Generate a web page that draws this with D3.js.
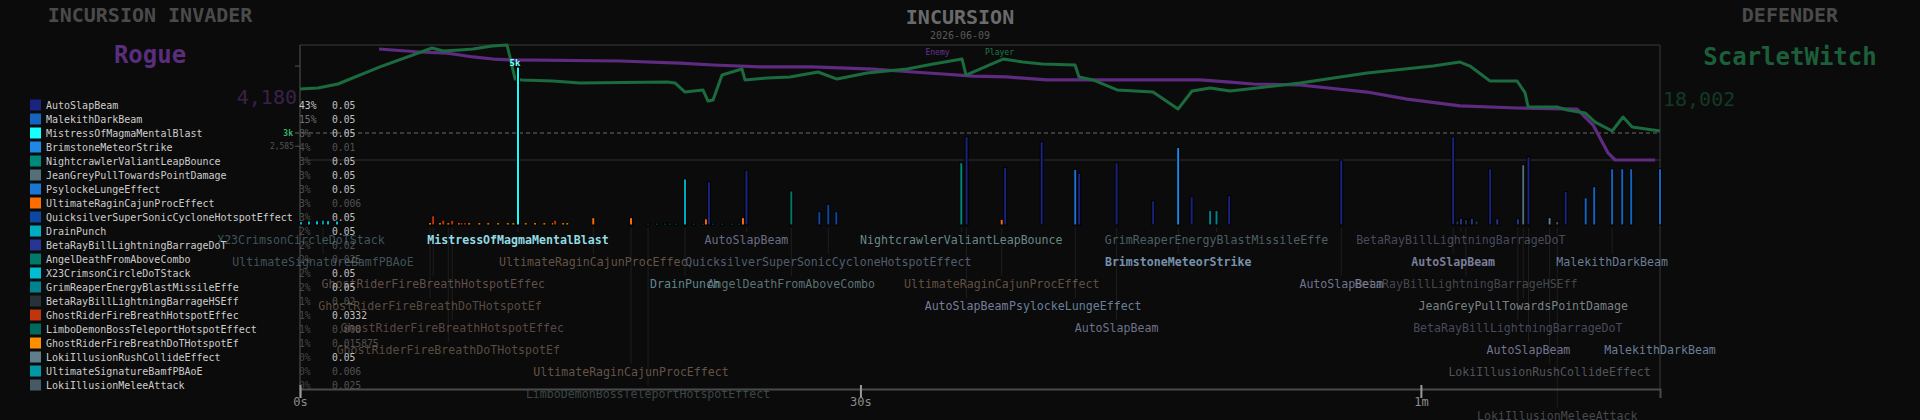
<!DOCTYPE html>
<html><head><meta charset="utf-8">
<script src="https://cdn.jsdelivr.net/npm/d3@7"></script>
<style>
html,body{margin:0;padding:0;background:#0b0b0b;}
svg{display:block;}
text{font-family:"DejaVu Sans Mono",monospace;}
</style></head><body>
<svg id="c" width="1920" height="420"></svg>
<script>
// ---------------- DATA ----------------
const chartTitle = "INCURSION";
const chartDate = "2026-06-09";
const invaderName = "Rogue";
const invaderTotal = 4180;
const defenderName = "ScarletWitch";
const defenderTotal = 18002;

const categories = [
  "AutoSlapBeam","MalekithDarkBeam","MistressOfMagmaMentalBlast","BrimstoneMeteorStrike",
  "NightcrawlerValiantLeapBounce","JeanGreyPullTowardsPointDamage","PsylockeLungeEffect",
  "UltimateRaginCajunProcEffect","QuicksilverSuperSonicCycloneHotspotEffect","DrainPunch",
  "BetaRayBillLightningBarrageDoT","AngelDeathFromAboveCombo","X23CrimsonCircleDoTStack",
  "GrimReaperEnergyBlastMissileEffe","BetaRayBillLightningBarrageHSEff","GhostRiderFireBreathHotspotEffec",
  "LimboDemonBossTeleportHotspotEffect","GhostRiderFireBreathDoTHotspotEf","LokiIllusionRushCollideEffect",
  "UltimateSignatureBamfPBAoE","LokiIllusionMeleeAttack"
];
const categoryColors = [
  "#1a237e","#1565c0","#18ffff","#1e88e5","#00897b","#546e7a","#1976d2","#ff6d00","#0d47a1","#00acc1",
  "#283593","#00796b","#00bcd4","#00838f","#263238","#bf360c","#00695c","#ff8f00","#607d8b","#0097a7","#455a64"
];
const sharePct = [43,15,8,4,3,3,3,3,3,2,2,2,2,2,1,1,1,1,0,0,0];
const coefficients = ["0.05","0.05","0.05","0.01","0.05","0.05","0.05","0.006","0.05","0.05","0.02","0.025","0.05","0.05","0.02","0.0332","0.008","0.015875","0.05","0.006","0.025"];

// HP of each side over time: [seconds, percent]
const playerHp = [[0,61.7],[0.96,62.6],[2.03,66.1],[4.28,80.9],[7.07,97.4],[7.66,94.8],[8.57,95.7],[9.26,96.5],[10.28,99.1],[11.08,100],[11.24,89.6],[11.51,70.4],[11.88,69.6],[13.54,68.7],[14.99,67.0],[19.65,67.8],[20.07,67.0],[20.61,59.1],[21.57,60.9],[21.84,51.3],[22.11,52.2],[22.59,73.9],[23.66,79.1],[23.82,69.6],[25.0,71.3],[26.23,72.2],[27.73,76.5],[28.75,70.4],[30.35,75.7],[32.49,79.1],[33.89,83.5],[35.44,87.8],[35.65,73.9],[37.63,87.8],[38.7,85.2],[39.72,83.5],[41.49,82.6],[41.7,72.2],[42.45,69.6],[43.74,60.9],[45.66,59.1],[47.0,44.3],[47.75,60.0],[48.72,62.6],[49.79,60.0],[53.53,67.0],[57.12,75.7],[60.65,81.7],[62.1,85.2],[62.63,81.7],[63.7,68.7],[65.15,68.7],[65.58,58.3],[65.74,46.1],[67.29,46.1],[67.83,43.5],[68.79,40.9],[69.33,33.0],[70.24,25.2],[70.82,37.4],[71.31,28.7],[72.8,25.2]];
const enemyHp = [[4.23,96.5],[6.42,93.9],[7.87,93.0],[8.57,91.3],[9.26,89.6],[10.33,87.8],[11.4,87.0],[17.13,86.1],[20.34,84.3],[22.11,82.6],[24.63,80.9],[27.41,80.9],[30.67,79.1],[32.82,76.5],[34.42,74.8],[36.03,73.0],[37.85,72.2],[39.99,69.6],[48.18,69.6],[49.79,67.8],[51.02,66.1],[53.53,65.2],[57.12,59.1],[59.26,53.0],[62.1,47.0],[65.15,45.2],[68.36,44.3],[69.22,30.4],[70.02,6.1],[70.4,0],[72.54,0]];

// hits: [seconds, category index, damage, label lane (-1 = none), optional label text]
const hits = [
  [0.05,12,110,0],[0.48,12,130,-1],[0.91,12,140,-1],[1.23,19,160,1],[1.50,12,140,-1],[1.98,12,130,-1],
  [6.96,17,75,3],[7.13,15,300,2],[7.49,17,75,-1],[7.67,15,160,-1],[7.94,17,75,5],[8.15,15,160,4],
  [8.51,17,75,-1],[8.65,15,75,-1],[8.83,15,75,-1],[9.06,17,75,-1],[9.60,17,75,-1],[10.08,17,75,-1],
  [10.61,17,75,-1],[11.12,17,75,-1],[11.42,17,75,-1],[11.67,2,5150,0],[12.08,17,75,-1],[12.58,17,75,-1],
  [13.08,17,75,-1],[13.53,17,75,-1],[13.66,15,160,-1],[14.09,17,75,-1],[14.31,17,75,-1],
  [15.70,7,240,1,"UltimateRaginCajunProcEffec"],[17.72,7,240,6],
  [18.63,16,60,7],[19.11,16,60,-1],[19.54,16,60,-1],[19.80,16,60,-1],[20.13,16,60,-1],[20.61,9,1500,2],
  [21.09,16,60,-1],[21.57,16,60,-1],[21.73,7,200,-1],[21.89,0,1410,-1],[22.11,16,60,-1],[22.59,16,60,-1],
  [23.12,16,60,-1],[23.50,16,60,-1],[23.71,7,240,-1],[23.90,0,1790,0],[26.30,11,1110,2],
  [27.80,8,435,-1],[28.28,8,675,1],[28.71,8,435,-1],[35.40,4,2030,0],[35.68,0,2880,3],[37.56,7,185,2],
  [37.75,0,1880,-1],[39.70,0,2720,-1],[41.50,6,1815,3],[41.71,0,1685,-1],[43.71,0,2030,4],[45.67,0,790,-1],
  [47.01,3,2530,1],[47.73,0,920,-1],[48.72,13,470,-1],[49.06,13,470,0],[49.74,0,955,-1],[55.74,0,2120,2],
  [61.73,0,2880,1],[61.96,14,140,-1],[62.14,10,220,0],[62.41,14,185,2],[62.66,14,185,-1],[62.73,10,220,-1],
  [62.98,14,140,-1],[63.71,0,1835,-1],[64.09,10,205,-1],[65.19,10,205,4],[65.48,5,1965,3],[65.76,0,2230,5],
  [66.89,18,240,6],[67.30,20,110,8],[67.75,0,1090,-1],[68.82,1,890,-1],[69.28,1,1250,-1],[70.24,1,1835,1],
  [70.78,1,1835,-1],[71.26,1,1835,-1],[72.80,1,1835,5]
];
// times of the critical hits (labels drawn in bold)
const critHitTimes = [11.67, 47.01, 61.73];

const timeTicks = [0,30,60];
const timeTickLabels = ["0s","30s","1m"];
const damageThreshold = 3000;
const damageThresholdLabel = "3k";
const damageAxisTicks = [5200,2585];
const damageAxisLabels = ["","2,585"];

// ---------------- DRAW ----------------
const svg = d3.select("#c");
svg.append("rect").attr("width",1920).attr("height",420).attr("fill","#0b0b0b");

const x = d3.scaleLinear().domain([0,72.8]).range([300,1660]);
const hpY = d3.scaleLinear().domain([0,100]).range([160,45]);
const dmgY = d3.scaleLinear().domain([0,damageThreshold]).range([225,133]);
const dmgMax = d3.max(hits, d=>d[2]);

// frame
const frame = svg.append("g");
frame.append("line").attr("x1",300).attr("x2",1660).attr("y1",45).attr("y2",45).attr("stroke","#2c2c2c").attr("stroke-width",1.5);
frame.append("line").attr("x1",300).attr("x2",1660).attr("y1",160).attr("y2",160).attr("stroke","#262626").attr("stroke-width",1.5);
frame.append("line").attr("x1",300).attr("x2",300).attr("y1",45).attr("y2",389).attr("stroke","#3c3c3c").attr("stroke-width",1.5);
frame.append("line").attr("x1",1660).attr("x2",1660).attr("y1",45).attr("y2",389).attr("stroke","#333").attr("stroke-width",1.2);

// damage axis on the left
const dAxis = svg.append("g").attr("transform","translate(300,0)")
  .call(d3.axisLeft(dmgY).tickValues(damageAxisTicks).tickSize(5).tickFormat((d,i)=>damageAxisLabels[i]));
dAxis.select(".domain").remove();
dAxis.selectAll("line").attr("stroke","#555");
dAxis.selectAll("text").attr("fill","#555").attr("font-size",8).attr("dx",2)
  .style("font-family","DejaVu Sans Mono");

// threshold line
svg.append("line").attr("x1",295).attr("x2",1660).attr("y1",dmgY(damageThreshold)).attr("y2",dmgY(damageThreshold))
  .attr("stroke","#6a6a6a").attr("stroke-dasharray","4,3").attr("stroke-width",1);
svg.append("text").attr("x",293).attr("y",dmgY(damageThreshold)).attr("text-anchor","end")
  .attr("dominant-baseline","central").attr("font-size",8).attr("font-weight","bold")
  .attr("fill","#36b36a").text(damageThresholdLabel);

// legend table
const leg = svg.append("g");
categories.forEach((c,i)=>{
  const y = 105 + i*14;
  leg.append("rect").attr("x",30).attr("y",y-5.5).attr("width",11).attr("height",11).attr("fill",categoryColors[i]);
  leg.append("text").attr("x",46).attr("y",y).attr("dominant-baseline","central").attr("font-size",10)
    .attr("fill","#cdcdcd").text(c);
});
const pctColor = d3.scaleLinear().domain([0,43]).range(["#444","#c8c8c8"]);
sharePct.forEach((p,i)=>{
  const y = 105 + i*14;
  leg.append("text").attr("x",299).attr("y",y).attr("dominant-baseline","central").attr("font-size",9.7)
    .attr("fill",pctColor(p)).text(p+"%");
  leg.append("text").attr("x",332).attr("y",y).attr("dominant-baseline","central").attr("font-size",9.7)
    .attr("fill", (+coefficients[i] >= 0.03) ? "#c0c0c0" : "#525252").text(coefficients[i]);
});

// HP lines
const line = d3.line().x(d=>x(d[0])).y(d=>hpY(d[1]));
svg.append("path").datum(enemyHp).attr("d",line).attr("fill","none").attr("stroke","#5e2b80").attr("stroke-width",3.2).attr("stroke-linejoin","round");
svg.append("path").datum(playerHp).attr("d",line).attr("fill","none").attr("stroke","#1b6b3f").attr("stroke-width",3).attr("stroke-linejoin","round");

// leader lines
const laneY = l => 240 + l*22;
svg.append("g").selectAll("line").data(hits.filter(d=>d[3]>=0)).join("line")
  .attr("x1",d=>x(d[0])).attr("x2",d=>x(d[0])).attr("y1",228).attr("y2",d=>laneY(d[3])-8)
  .attr("stroke","#1e1e1e").attr("stroke-width",1);

// bars
svg.append("g").selectAll("rect").data(hits).join("rect")
  .attr("x",d=>x(d[0])-1.5).attr("width",3)
  .attr("y",d=>dmgY(d[2])).attr("height",d=>dmgY(0)-dmgY(d[2]))
  .attr("fill",d=>categoryColors[d[1]]).attr("stroke","#000").attr("stroke-width",1);

// max value label
const maxHit = hits.find(d=>d[2]===dmgMax);
svg.append("text").attr("x",x(maxHit[0])-3).attr("y",dmgY(maxHit[2])-1).attr("text-anchor","middle")
  .attr("font-size",9).attr("font-weight","bold").attr("fill","#7ff")
  .text(Math.round(maxHit[2]/1000)+"k");

// hit labels
const toneMix = (c)=> d3.interpolateRgb(c,"#c8ccd6")(0.7);
const isCrit = d => critHitTimes.includes(d[0]);
svg.append("g").selectAll("text").data(hits.filter(d=>d[3]>=0)).join("text")
  .attr("x",d=>x(d[0])).attr("y",d=>laneY(d[3])).attr("text-anchor","middle").attr("dominant-baseline","central")
  .attr("font-size",11.6).attr("font-weight",d=>isCrit(d)?"bold":"normal")
  .attr("fill",d=>toneMix(categoryColors[d[1]]))
  .attr("fill-opacity",d=>0.3+0.7*Math.sqrt(d[2]/dmgMax))
  .text(d=>d[4] || categories[d[1]]);

// time axis
const xAxis = svg.append("g").attr("transform","translate(0,389)")
  .call(d3.axisBottom(x).tickValues(timeTicks).tickSize(9).tickFormat((d,i)=>timeTickLabels[i]));
xAxis.select(".domain").attr("stroke","#4a4a4a").attr("stroke-width",2);
xAxis.selectAll(".tick line").attr("stroke","#9a9a9a").attr("stroke-width",2).attr("y1",-4);
xAxis.selectAll(".tick text").attr("fill","#8c8c8c").attr("font-size",12).attr("dy","0.4em")
  .style("font-family","DejaVu Sans Mono");

// titles
const T = (x0,y0,txt,size,fill,weight,anchor)=>svg.append("text").attr("x",x0).attr("y",y0)
  .attr("text-anchor",anchor||"middle").attr("dominant-baseline","central").attr("font-size",size)
  .attr("font-weight",weight||"normal").attr("fill",fill).text(txt);
T(150,15,"INCURSION INVADER",20,"#4a4a4a","bold");
T(150,55,invaderName,24,"#5a2d7d","bold");
T(297,97,d3.format(",")(invaderTotal),20,"#3b2149","normal","end");
T(960,17,chartTitle,20,"#6a6a6a","bold");
T(960,35,chartDate,10,"#5a5a5a");
T(937.5,52,"Enemy",8,"#6a3390");
T(999.5,52,"Player",8,"#1f7a47");
T(1790,15,"DEFENDER",20,"#4a4a4a","bold");
T(1790,57,defenderName,24,"#1b5e3a","bold");
T(1663,99,d3.format(",")(defenderTotal),20,"#123a24","normal","start");
</script>
</body></html>
